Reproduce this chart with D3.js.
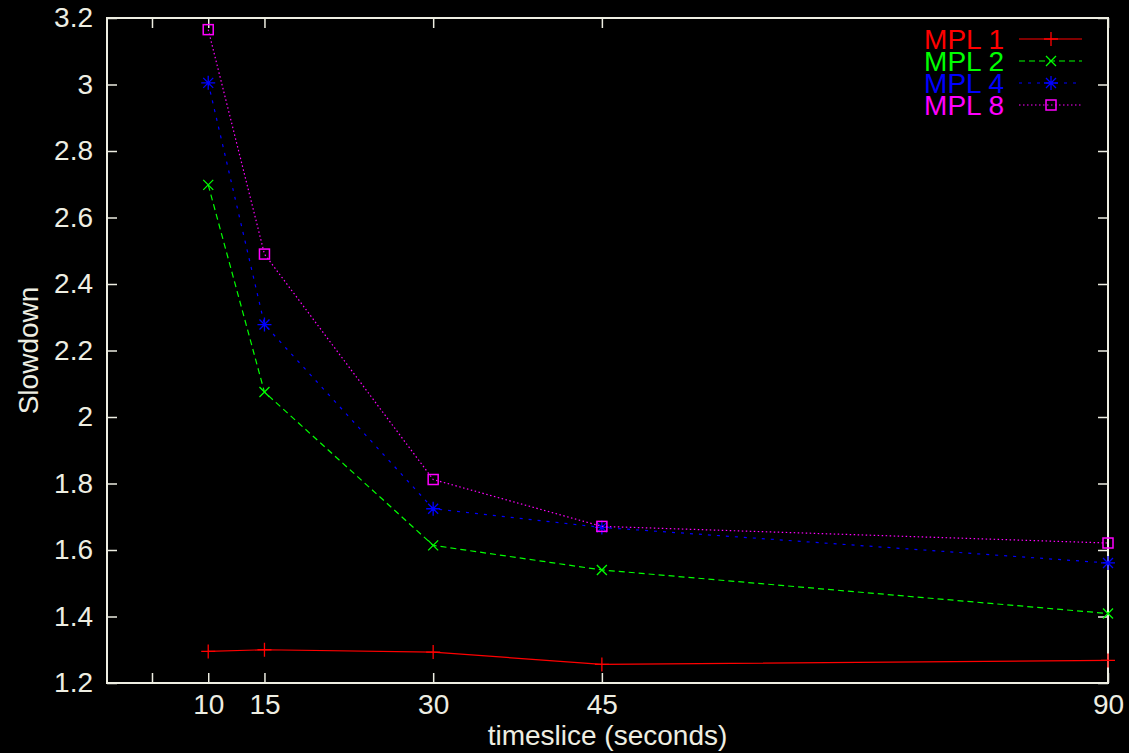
<!DOCTYPE html>
<html>
<head>
<meta charset="utf-8">
<script src="https://d3js.org/d3.v7.min.js"></script>
<style>
  html, body { margin: 0; padding: 0; background: #000; }
  svg text { font-family: "Liberation Sans", Arial, sans-serif; }
</style>
</head>
<body>
<div id="chart"></div>
<script>
// timeslice values (seconds)
const timeslices = [10, 15, 30, 45, 90];
const xTickValues = [5, 10, 15, 30, 45, 90];
const xTickLabels = ["", "10", "15", "30", "45", "90"];
const yTickValues = [1.2, 1.4, 1.6, 1.8, 2, 2.2, 2.4, 2.6, 2.8, 3, 3.2];

const seriesNames = ["MPL 1", "MPL 2", "MPL 4", "MPL 8"];
const mpl1 = [1.295, 1.300, 1.293, 1.256, 1.268];
const mpl2 = [2.698, 2.075, 1.614, 1.540, 1.409];
const mpl4 = [3.005, 2.278, 1.724, 1.668, 1.561];
const mpl8 = [3.165, 2.490, 1.812, 1.671, 1.621];

const colors = ["#ff0000", "#00ff00", "#0000ff", "#ff00ff"];
const dashes = [null, "6,4", "3,6", "1.5,2.5"];
const markers = ["plus", "cross", "star", "box"];

const width = 1129, height = 753;
const margin = {left: 107, right: 21, top: 18, bottom: 70};
const fg = "#eeeee2";
const fontSize = 28;

const svg = d3.select("#chart").append("svg")
  .attr("width", width)
  .attr("height", height)
  .style("background", "#000");

const x = d3.scaleLinear().domain([1, 90]).range([margin.left, width - margin.right]);
const y = d3.scaleLinear().domain([1.2, 3.2]).range([height - margin.bottom, margin.top]);

const fmt = d => d3.format("")(+d.toFixed(1));

// axes: bottom & left with labels, top & right mirrored ticks
const tickLen = 10;
svg.append("g")
  .attr("transform", `translate(0,${y(1.2)})`)
  .call(d3.axisBottom(x).tickValues(xTickValues).tickSize(-tickLen).tickPadding(11)
    .tickFormat((d, i) => xTickLabels[i]));
svg.append("g")
  .attr("transform", `translate(0,${y(3.2)})`)
  .call(d3.axisTop(x).tickValues(xTickValues).tickSize(-tickLen).tickFormat(""));
svg.append("g")
  .attr("transform", `translate(${x(1)},0)`)
  .call(d3.axisLeft(y).tickValues(yTickValues).tickSize(-tickLen).tickPadding(14).tickFormat(fmt));
svg.append("g")
  .attr("transform", `translate(${x(90)},0)`)
  .call(d3.axisRight(y).tickValues(yTickValues).tickSize(-tickLen).tickFormat(""));

svg.selectAll(".domain").remove();
svg.selectAll(".tick line").attr("stroke", fg).attr("stroke-width", 1.5);
svg.selectAll(".tick text").attr("fill", fg).attr("font-size", fontSize)
  .attr("font-family", "Liberation Sans, Arial, sans-serif");

// frame
svg.append("rect")
  .attr("x", x(1)).attr("y", y(3.2))
  .attr("width", x(90) - x(1)).attr("height", y(1.2) - y(3.2))
  .attr("fill", "none").attr("stroke", fg).attr("stroke-width", 2);

// axis titles
svg.append("text")
  .attr("x", (x(1) + x(90)) / 2).attr("y", 745)
  .attr("text-anchor", "middle").attr("fill", fg).attr("font-size", fontSize)
  .text("timeslice (seconds)");
svg.append("text")
  .attr("transform", `translate(38,${(y(1.2) + y(3.2)) / 2}) rotate(-90)`)
  .attr("text-anchor", "middle").attr("fill", fg).attr("font-size", fontSize)
  .text("Slowdown");

function drawMarker(g, type, cx, cy, color) {
  const s = 5;
  if (type === "plus") {
    g.append("path").attr("d", `M${cx - 7},${cy}H${cx + 7}M${cx},${cy - 7}V${cy + 7}`)
      .attr("stroke", color).attr("stroke-width", 1.3).attr("fill", "none");
  } else if (type === "cross") {
    g.append("path").attr("d", `M${cx - s},${cy - s}L${cx + s},${cy + s}M${cx - s},${cy + s}L${cx + s},${cy - s}`)
      .attr("stroke", color).attr("stroke-width", 1.3).attr("fill", "none");
  } else if (type === "star") {
    g.append("path").attr("d", `M${cx - 7},${cy}H${cx + 7}M${cx},${cy - 7}V${cy + 7}M${cx - s},${cy - s}L${cx + s},${cy + s}M${cx - s},${cy + s}L${cx + s},${cy - s}`)
      .attr("stroke", color).attr("stroke-width", 1.3).attr("fill", "none");
  } else {
    g.append("rect").attr("x", cx - s).attr("y", cy - s).attr("width", 2 * s).attr("height", 2 * s)
      .attr("stroke", color).attr("stroke-width", 1.5).attr("fill", "none");
  }
}

const allSeries = [mpl1, mpl2, mpl4, mpl8];
const line = d3.line().x((d, i) => x(timeslices[i])).y(d => y(d));

allSeries.forEach((vals, k) => {
  const g = svg.append("g");
  g.append("path").datum(vals)
    .attr("d", line)
    .attr("fill", "none")
    .attr("stroke", colors[k])
    .attr("stroke-width", 1.2)
    .attr("stroke-dasharray", dashes[k]);
  vals.forEach((v, i) => drawMarker(g, markers[k], x(timeslices[i]), y(v), colors[k]));
});

// legend
const legRowY = [39, 61, 83, 105];
seriesNames.forEach((name, k) => {
  const ly = legRowY[k];
  svg.append("text")
    .attr("x", 1004).attr("y", ly + 10)
    .attr("text-anchor", "end").attr("fill", colors[k]).attr("font-size", fontSize)
    .text(name);
  svg.append("line")
    .attr("x1", 1019).attr("x2", 1082).attr("y1", ly).attr("y2", ly)
    .attr("stroke", colors[k]).attr("stroke-width", 1.2)
    .attr("stroke-dasharray", dashes[k]);
  drawMarker(svg, markers[k], 1051, ly, colors[k]);
});
</script>
</body>
</html>
